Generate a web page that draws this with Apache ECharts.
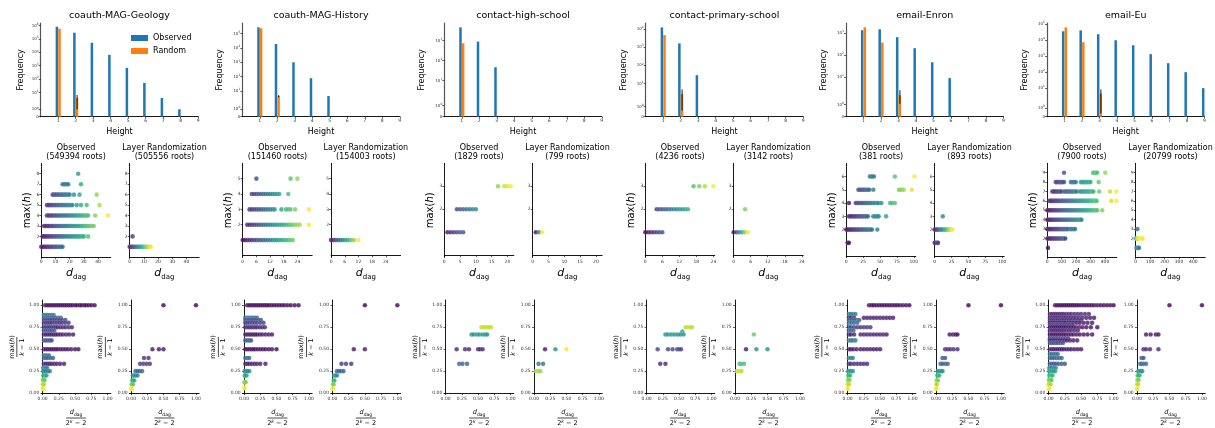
<!DOCTYPE html>
<html><head><meta charset="utf-8">
<script src="https://cdn.jsdelivr.net/npm/echarts@6/dist/echarts.min.js"></script>
<style>html,body{margin:0;padding:0;background:#fff}#c{width:1215px;height:428px}</style>
</head><body><div id="c"></div>
<script>
// ---------------- DATA ----------------
const datasetNames = ['coauth-MAG-Geology','coauth-MAG-History','contact-high-school','contact-primary-school','email-Enron','email-Eu'];
const heights = [1,2,3,4,5,6,7,8,9];
// top row: frequency of each height (Observed / Random), random error bars [height, low, high]
const geologyObserved = [8.2e5, 2.9e5, 5.2e4, 6.5e3, 690, 52, 3.9, 1, 0];
const geologyRandom   = [5.8e5, 3.9, 0, 0, 0, 0, 0, 0, 0];
const geologyRandomErr = [[2, 1, 6.5]];
const historyObserved = [2.8e5, 1.9e4, 1.0e3, 77, 4.3, 0, 0, 0, 0];
const historyRandom   = [2.4e5, 4.3, 0, 0, 0, 0, 0, 0, 0];
const historyRandomErr = [[2, 3.6, 5]];
const highSchoolObserved = [4700, 906, 47, 0, 0, 0, 0, 0, 0];
const highSchoolRandom   = [747, 0, 0, 0, 0, 0, 0, 0, 0];
const highSchoolRandomErr = [];
const primarySchoolObserved = [1.2e4, 1.6e3, 29, 0, 0, 0, 0, 0, 0];
const primarySchoolRandom   = [4.6e3, 2.7, 0, 0, 0, 0, 0, 0, 0];
const primarySchoolRandomErr = [[2, 0.6, 4.8]];
const enronObserved = [1350, 1500, 650, 205, 47, 8.9, 0, 0, 0];
const enronRandom   = [1850, 371, 1.77, 0, 0, 0, 0, 0, 0];
const enronRandomErr = [[3, 1.06, 2.5]];
const euObserved = [3.5e4, 4.0e4, 2.3e4, 9.6e3, 4.7e3, 1.3e3, 350, 96, 9.6];
const euRandom   = [6.2e4, 7.2e3, 4.4, 0, 0, 0, 0, 0, 0];
const euRandomErr = [[3, 0.37, 7.9]];
const freqTickPowers = [6, 5, 3, 4, 3, 5]; // highest labelled power of ten per panel

// middle row: rows of [max(h), d_dag values, optional colour values (0..1, size k)]
const roots = [[549394, 505556], [151460, 154003], [1829, 799], [4236, 3142], [381, 893], [7900, 20799]];
const geologyObsDag = [
  [1, [0,1,2,3,4,5,6,7,8,9,10,11,12,13,14,15]],
  [2, [1,2,3,4,5,6,7,8,9,10,11,12,13,14,15,16,17,18,19,20,21,22,23,24,25,26,27,28,29,30,33]],
  [3, [2,3,4,5,6,7,8,9,10,11,12,13,14,15,16,17,18,19,20,21,22,23,24,25,26,27,28,29,30,31,32,33,34,35,36,37]],
  [4, [4,5,6,7,8,9,10,11,12,13,14,15,16,17,18,19,20,21,22,23,24,25,26,27,28,29,30,31,32,33,38,47]],
  [5, [4,5,6,7,8,9,10,11,12,13,14,15,16,17,18,19,20,21,22,25,28,32,41]],
  [6, [8,9,10,11,12,13,14,15,16,17,18,19,20,23,27,39]],
  [7, [15,16,17,18,19,28]],
  [8, [26]]
];
const geologyLayerDag = [
  [1, [0,1,2,3,4,5,6,7,8,9,10,11,12,13,14,15]],
  [2, [2]]
];
const historyObsDag = [
  [1, [0,1,2,3,4,5,6,7,8,9,10,11,12,13,14,15,16,17,18,19,20,21,22]],
  [2, [2,3,4,5,6,7,8,9,10,11,12,13,14,15,16,17,18,19,20,21,22,23,24,25,29]],
  [3, [3,4,5,6,7,8,9,10,11,12,13,14,17,19,20,21,23,29]],
  [4, [4,5,6,7,8,9,10,11,12,13,14,15,16,20]],
  [5, [6,21,24]]
];
const historyLayerDag = [
  [1, [0,1,2,3,4,5,6,7,8,9,10,12]]
];
const highSchoolObsDag = [
  [1, [1,2,3,4,5,6]],
  [2, [4,5,6,7,8,9,10]],
  [3, [17,19,20,21]]
];
const highSchoolLayerDag = [
  [1, [1,2,3], [0.02,0.45,1]]
];
const primarySchoolObsDag = [
  [1, [0,1,2,3,4,5,6]],
  [2, [4,5,6,7,8,9,10,11,12,13,14,15]],
  [3, [17,19,21,24]]
];
const primarySchoolLayerDag = [
  [1, [0,1,2,3,4,5]],
  [2, [4]]
];
const enronObsDag = [
  [1, [2,4]],
  [2, [0,2,4,6,8,10,12,14,16,18,20,22,24,26,28,30,32,34,36,38,46]],
  [3, [4,6,8,10,12,14,16,18,20,22,24,26,28,30,32,40,42,44,46,48,59]],
  [4, [4,14,16,18,20,22,24,26,28,30,32,34,36,38,40,42,44,46,48,52,65,68,72]],
  [5, [18,20,22,24,26,28,30,32,34,40,78,80,82,85,97]],
  [6, [35,37,39,41,72,101]]
];
const enronLayerDag = [
  [1, [0,2,4,5]],
  [2, [0,2,4,6,8,10,12,14,16,18,20,22,24,26]],
  [3, [12]]
];
const euObsDag = [
  [1, [5]],
  [2, [0,8,16,24,32,40,48,56,64,72,80,88,96,104,112,120,125]],
  [3, [0,8,16,24,32,40,48,56,64,72,80,88,96,104,112,120,128,136,144,158,166,175,184,193]],
  [4, [0,8,16,24,32,40,48,56,64,72,80,88,96,104,112,120,128,136,144,152,160,168,176,184,192,200,208,216,224,232,237]],
  [5, [0,8,16,24,32,40,48,56,64,72,80,88,96,104,112,120,128,136,144,152,160,168,176,184,192,200,208,216,224,232,240,248,256,264,272,280,288,296,304,312,320,328,337,346,381]],
  [6, [16,24,32,40,48,56,64,72,80,88,96,104,112,120,128,136,144,152,160,168,176,184,192,200,208,216,224,232,240,248,256,264,272,280,288,296,304,312,320,328,336,342,444,479]],
  [7, [35,43,51,59,67,75,83,91,98,116,124,132,140,148,156,164,172,180,188,196,204,225,233,241,249,257,265,273,281,289,297,305,313,320,360,435,479]],
  [8, [58,66,74,82,90,98,106,116,163,171,179,187,198,233,241,249,257,265,273,281,289,300,356]],
  [9, [116,318,325,332,339,346,402]]
];
const euLayerDag = [
  [1, [5,12,18,23], [0.4,0.42,0.42,0.42]],
  [2, [0,6,12,18,24,30,36,42,48], [0.62,0.72,0.9,0.95,0.97,1,1,1,1]],
  [3, [12], [0.3]]
];

// bottom row: rows of [max(h)/(k-1), d_dag/(2^k-2) values, colour value (size k, 0..1)]
const geologyObsNorm = [
  [1.0, [0.04,0.07,0.1,0.13,0.16,0.19,0.22,0.25,0.28,0.31,0.34,0.37,0.4,0.43,0.46,0.5,0.53,0.57,0.6,0.64,0.67,0.71,0.75,0.8], 0.02],
  [0.889, [0.02,0.04,0.06,0.08,0.11,0.14,0.17], 0.4],
  [0.857, [0.02,0.05,0.08,0.11,0.14,0.17,0.2,0.24,0.28], 0.3],
  [0.833, [0.02,0.05,0.08,0.11,0.14,0.18,0.22,0.26,0.3,0.35], 0.2],
  [0.8, [0.02,0.05,0.08,0.11,0.14,0.18,0.22,0.26,0.3,0.35,0.4], 0.15],
  [0.75, [0.02,0.05,0.08,0.11,0.14,0.17,0.2,0.23,0.27,0.31,0.35,0.4,0.45], 0.1],
  [0.714, [0.02,0.05,0.08,0.11,0.14,0.18], 0.28],
  [0.667, [0.02,0.05,0.08,0.11,0.14,0.17,0.2,0.23,0.27,0.31,0.36,0.41,0.47], 0.07],
  [0.6, [0.02,0.05,0.08,0.11,0.14], 0.25],
  [0.5, [0.02,0.05,0.08,0.11,0.14,0.17,0.2,0.23,0.27,0.31,0.35,0.39,0.44,0.5,0.55], 0.04],
  [0.429, [0.02,0.04,0.07,0.1], 0.35],
  [0.4, [0.02,0.05,0.08,0.12,0.16], 0.3],
  [0.333, [0.02,0.05,0.08,0.11,0.14,0.18,0.22,0.27,0.33], 0.08],
  [0.286, [0.01,0.03,0.05,0.07], 0.45],
  [0.25, [0.01,0.03,0.05,0.08,0.11], 0.4],
  [0.2, [0.01,0.02,0.04,0.06], 0.6],
  [0.15, [0.005,0.015,0.03], 0.75],
  [0.1, [0.003,0.01,0.02], 0.88],
  [0.05, [0.002,0.008], 1.0]
];
const geologyLayerNorm = [
  [1.0, [0.5,1.0], 0.0],
  [0.5, [0.33,0.43,0.5], 0.05],
  [0.4, [0.2,0.27], 0.12],
  [0.333, [0.14,0.19,0.24,0.29], 0.15],
  [0.25, [0.07,0.1,0.13,0.17], 0.3],
  [0.2, [0.03,0.05,0.07,0.1], 0.45],
  [0.143, [0.02,0.03,0.05], 0.6],
  [0.1, [0.01,0.02,0.03], 0.75],
  [0.05, [0.003,0.008,0.015], 1.0]
];
const historyObsNorm = [
  [1.0, [0.05,0.08,0.11,0.14,0.17,0.2,0.23,0.26,0.29,0.32,0.35,0.38,0.42,0.46,0.5,0.54,0.58,0.62,0.67,0.72,0.78,0.84], 0.02],
  [0.857, [0.02,0.05,0.08,0.11,0.14,0.17,0.2], 0.35],
  [0.833, [0.02,0.05,0.08,0.11,0.14,0.18,0.22,0.26], 0.25],
  [0.8, [0.02,0.05,0.08,0.12,0.16,0.2,0.25,0.3], 0.18],
  [0.75, [0.02,0.05,0.08,0.11,0.14,0.17,0.2,0.24,0.28,0.32], 0.1],
  [0.667, [0.02,0.05,0.08,0.11,0.14,0.17,0.2,0.24,0.28,0.33,0.38,0.43], 0.06],
  [0.6, [0.02,0.05,0.08,0.11], 0.3],
  [0.5, [0.02,0.05,0.08,0.11,0.14,0.17,0.21,0.25,0.29,0.33,0.38,0.43,0.5], 0.03],
  [0.4, [0.02,0.05,0.08], 0.35],
  [0.333, [0.02,0.05,0.08,0.12,0.16,0.2,0.25,0.33], 0.08],
  [0.25, [0.01,0.03,0.05,0.08], 0.45],
  [0.2, [0.01,0.02,0.04], 0.6],
  [0.125, [0.005,0.015,0.025], 0.8],
  [0.06, [0.002,0.008], 1.0]
];
const historyLayerNorm = [
  [1.0, [0.5,1.0], 0.0],
  [0.5, [0.33,0.5], 0.05],
  [0.333, [0.14,0.21,0.29], 0.15],
  [0.25, [0.07,0.1,0.13,0.17], 0.3],
  [0.2, [0.03,0.05,0.07], 0.5],
  [0.143, [0.02,0.03], 0.65],
  [0.1, [0.01,0.02], 0.8],
  [0.05, [0.003,0.008], 1.0]
];
const highSchoolObsNorm = [
  [0.75, [0.55,0.58,0.61,0.64,0.67,0.7], 0.9],
  [0.667, [0.4,0.43,0.48,0.52,0.57,0.61,0.64], 0.5],
  [0.5, [0.17,0.3,0.36,0.5,0.53,0.57], 0.1],
  [0.333, [0.21,0.26,0.33], 0.3]
];
const highSchoolLayerNorm = [
  [0.5, [0.17], 0.05],
  [0.5, [0.33], 0.5],
  [0.5, [0.5], 1.0],
  [0.333, [0.07,0.14], 0.35],
  [0.25, [0.03,0.07,0.1], 0.85]
];
const primarySchoolObsNorm = [
  [0.75, [0.6,0.63,0.67,0.7], 0.9],
  [0.7, [0.55], 0.6],
  [0.667, [0.29,0.33,0.38,0.43,0.48,0.52,0.57], 0.5],
  [0.5, [0.17,0.33,0.4,0.47,0.5,0.53], 0.2],
  [0.333, [0.21,0.29], 0.1]
];
const primarySchoolLayerNorm = [
  [0.667, [0.29], 0.75],
  [0.5, [0.17], 0.05],
  [0.5, [0.33,0.5], 0.5],
  [0.333, [0.07,0.1,0.14], 0.7],
  [0.25, [0.03,0.07,0.1], 0.9]
];
const enronObsNorm = [
  [1.0, [0.33,0.37,0.4,0.44,0.48,0.52,0.56,0.6,0.64,0.68,0.72,0.76,0.8,0.85,0.9,0.95], 0.02],
  [0.9, [0.02,0.05,0.08,0.12], 0.4],
  [0.857, [0.02,0.05,0.1,0.25,0.3,0.35,0.4,0.45,0.5,0.55,0.6,0.65,0.7], 0.08],
  [0.833, [0.02,0.06,0.1,0.14,0.18], 0.3],
  [0.8, [0.02,0.06,0.1,0.15], 0.35],
  [0.75, [0.02,0.05,0.1,0.15,0.2,0.25,0.3,0.35], 0.15],
  [0.714, [0.02,0.05,0.09], 0.35],
  [0.667, [0.02,0.05,0.1,0.2,0.25,0.3,0.35,0.4,0.45,0.5,0.55,0.6], 0.08],
  [0.6, [0.02,0.05,0.08,0.12], 0.4],
  [0.5, [0.02,0.05,0.09,0.14,0.2,0.25,0.3,0.35,0.4,0.45,0.5], 0.06],
  [0.4, [0.02,0.05,0.08], 0.45],
  [0.333, [0.02,0.05,0.1,0.15,0.2,0.25,0.3], 0.1],
  [0.25, [0.01,0.03,0.05,0.08], 0.5],
  [0.2, [0.01,0.02,0.04], 0.65],
  [0.15, [0.005,0.015,0.03], 0.8],
  [0.1, [0.003,0.01,0.02], 0.9],
  [0.05, [0.002,0.008], 1.0]
];
const enronLayerNorm = [
  [1.0, [0.5,1.0], 0.0],
  [0.667, [0.21,0.26,0.3,0.33], 0.05],
  [0.5, [0.14,0.18,0.22,0.27,0.33], 0.12],
  [0.4, [0.1,0.14], 0.25],
  [0.333, [0.07,0.1,0.14,0.18], 0.3],
  [0.25, [0.03,0.05,0.08,0.1], 0.5],
  [0.2, [0.02,0.03,0.05], 0.65],
  [0.143, [0.01,0.02,0.03], 0.8],
  [0.1, [0.005,0.012], 0.9],
  [0.05, [0.002,0.006], 1.0]
];
const euObsNorm = [
  [1.0, [0.1,0.13,0.16,0.19,0.22,0.25,0.28,0.31,0.34,0.37,0.4,0.43,0.46,0.5,0.54,0.58,0.62,0.66,0.7,0.75,0.8,0.85,0.9,0.95,1.0], 0.02],
  [0.9, [0.02,0.05,0.08,0.11,0.14,0.17,0.2,0.23,0.27,0.31,0.35,0.4,0.45,0.5,0.56,0.62], 0.1],
  [0.857, [0.02,0.05,0.08,0.11,0.14,0.17,0.2,0.23,0.26,0.3,0.34,0.38,0.42,0.47,0.52,0.58,0.64,0.7], 0.06],
  [0.833, [0.02,0.05,0.08,0.11,0.14,0.17,0.2,0.23,0.27,0.31,0.35,0.4,0.45,0.5], 0.15],
  [0.8, [0.02,0.05,0.08,0.11,0.14,0.17,0.2,0.23,0.26,0.3,0.34,0.38,0.43,0.48,0.54,0.6,0.67], 0.05],
  [0.778, [0.02,0.05,0.08,0.11,0.14,0.17,0.2,0.24,0.28,0.32,0.37], 0.2],
  [0.75, [0.02,0.05,0.08,0.11,0.14,0.17,0.2,0.23,0.26,0.3,0.34,0.38,0.42,0.47,0.52,0.58,0.65,0.75], 0.04],
  [0.714, [0.02,0.05,0.08,0.11,0.14,0.17,0.2,0.23,0.27,0.31,0.35,0.4,0.45], 0.1],
  [0.667, [0.02,0.05,0.08,0.11,0.14,0.17,0.2,0.23,0.26,0.3,0.34,0.38,0.43,0.48,0.54,0.6,0.67], 0.04],
  [0.625, [0.02,0.05,0.08,0.11,0.14,0.18,0.22,0.26,0.3], 0.2],
  [0.6, [0.02,0.05,0.08,0.11,0.14,0.17,0.2,0.24,0.28,0.33,0.38,0.44], 0.08],
  [0.571, [0.02,0.05,0.08,0.11,0.14,0.18,0.22], 0.25],
  [0.5, [0.02,0.05,0.08,0.11,0.14,0.17,0.2,0.23,0.27,0.31,0.35,0.4,0.45,0.5], 0.06],
  [0.444, [0.02,0.05,0.08,0.11,0.14], 0.35],
  [0.4, [0.02,0.05,0.08,0.12,0.16,0.2], 0.3],
  [0.333, [0.02,0.05,0.08,0.11,0.15,0.2,0.25], 0.25],
  [0.286, [0.01,0.03,0.05,0.08,0.11], 0.45],
  [0.25, [0.01,0.03,0.05,0.07,0.1], 0.55],
  [0.2, [0.01,0.02,0.04,0.06], 0.65],
  [0.15, [0.005,0.015,0.03,0.045], 0.75],
  [0.1, [0.003,0.01,0.02,0.03], 0.88],
  [0.05, [0.002,0.008,0.015], 1.0]
];
const euLayerNorm = [
  [1.0, [0.5,1.0], 0.0],
  [0.667, [0.14,0.21,0.29,0.33], 0.05],
  [0.5, [0.1,0.14,0.2,0.33], 0.1],
  [0.4, [0.07,0.1], 0.25],
  [0.333, [0.05,0.07,0.1,0.14], 0.35],
  [0.25, [0.02,0.04,0.06,0.08], 0.5],
  [0.2, [0.01,0.02,0.04], 0.65],
  [0.15, [0.006,0.015,0.025], 0.8],
  [0.1, [0.003,0.008,0.015], 0.9],
  [0.05, [0.001,0.005], 1.0]
];

// ---------------- STYLE / LAYOUT ----------------
const FONT = 'DejaVu Sans';
const BLUE = '#1f77b4', ORANGE = '#ff7f0e';
const viridisStops = ['#440154','#482475','#414487','#355f8d','#2a788e','#21918c','#22a884','#44bf70','#7ad151','#bddf26','#fde725'];
function hex2rgb(h){return [parseInt(h.slice(1,3),16),parseInt(h.slice(3,5),16),parseInt(h.slice(5,7),16)];}
function viridis(t){
  t = Math.max(0, Math.min(1, t)); const s = t*10; const i = Math.min(9, Math.floor(s)); const f = s - i;
  const a = hex2rgb(viridisStops[i]), b = hex2rgb(viridisStops[i+1]);
  return 'rgb(' + a.map((v,j)=>Math.round(v+(b[j]-v)*f)).join(',') + ')';
}
// matplotlib symlog (linthresh 2, linscale 1)
const LT = 2, LS = 1/(1-0.1);
function symlog(v){ return v <= LT ? v/LT*LS : LS + Math.log10(v/LT); }

const topLeft = [40.7, 242.3, 444.3, 645.7, 846, 1047];
const topWidth = 157.5, topTop = 23, topHeight = 93.7;
const obsLeft = [41.3, 242.7, 444.3, 645.3, 846.3, 1047.3];
const subWidth = 69.5, layerOffset = 88.4;
const midTop = 163.3, midHeight = 94;
const botTop = 300, botHeight = 98;
const topYMax = [7.0, 6.56, 4.7, 5.13, 4.27, 5.875];
const midXMax = [49, 30.5, 22, 24.5, 103, 482];
const midXTicks = [[0,10,20,30,40],[0,6,12,18,24],[0,5,10,15,20],[0,6,12,18,24],[0,25,50,75,100],[0,100,200,300,400]];
const midYMin = [0, -0.12, -0.09, -0.09, -0.09, 0];
const midYMax = [9, 6, 4, 4, 7, 10];

const observedSets = [geologyObserved, historyObserved, highSchoolObserved, primarySchoolObserved, enronObserved, euObserved];
const randomSets = [geologyRandom, historyRandom, highSchoolRandom, primarySchoolRandom, enronRandom, euRandom];
const errSets = [geologyRandomErr, historyRandomErr, highSchoolRandomErr, primarySchoolRandomErr, enronRandomErr, euRandomErr];
const obsDagSets = [geologyObsDag, historyObsDag, highSchoolObsDag, primarySchoolObsDag, enronObsDag, euObsDag];
const layerDagSets = [geologyLayerDag, historyLayerDag, highSchoolLayerDag, primarySchoolLayerDag, enronLayerDag, euLayerDag];
const obsNormSets = [geologyObsNorm, historyObsNorm, highSchoolObsNorm, primarySchoolObsNorm, enronObsNorm, euObsNorm];
const layerNormSets = [geologyLayerNorm, historyLayerNorm, highSchoolLayerNorm, primarySchoolLayerNorm, enronLayerNorm, euLayerNorm];

const grids = [], xAxes = [], yAxes = [], series = [], graphics = [];
const tickLabel = {fontSize: 4.5, color: '#333', fontFamily: FONT, margin: 2};
const axLine = {show: true, lineStyle: {color: '#000', width: 0.9}};
function tick(vals){ return {show: true, length: 2, customValues: vals, lineStyle: {color: '#000', width: 0.6}}; }
function addGrid(l, t, w, h){ grids.push({left: l, top: t, width: w, height: h, containLabel: false}); return grids.length - 1; }
function text(x, y, s, size){ graphics.push({type: 'text', x: x, y: y, style: {text: s, fontSize: size, fontFamily: FONT, fill: '#000', align: 'center', verticalAlign: 'middle'}}); }

// ---------- top row ----------
for (let i = 0; i < 6; i++) {
  const g = addGrid(topLeft[i], topTop, topWidth, topHeight);
  const tv = [0], tl = {};
  tl[(0).toFixed(4)] = '{b|0}';
  for (let p = 0; p <= freqTickPowers[i]; p++) { const v = symlog(Math.pow(10, p)); tv.push(v); tl[v.toFixed(4)] = '{b|10}{e|' + p + '}'; }
  xAxes.push({gridIndex: g, type: 'value', min: 0, max: 9, axisLine: axLine, axisTick: tick(heights),
    axisLabel: Object.assign({customValues: heights}, tickLabel), splitLine: {show: false},
    name: 'Height', nameLocation: 'middle', nameGap: 11, nameTextStyle: {fontSize: 8, fontFamily: FONT, color: '#000'}});
  yAxes.push({gridIndex: g, type: 'value', min: 0, max: topYMax[i], axisLine: {show: true, lineStyle: {color: '#555', width: 1.2}}, axisTick: tick(tv),
    axisLabel: Object.assign({customValues: tv, formatter: v => tl[v.toFixed(4)] || '',
      rich: {b: {fontSize: 4, color: '#333', fontFamily: FONT}, e: {fontSize: 3, color: '#333', fontFamily: FONT, padding: [0,0,3,0]}}}, tickLabel),
    splitLine: {show: false},
    name: 'Frequency', nameLocation: 'middle', nameGap: i === 0 ? 16 : 18, nameRotate: 90, nameTextStyle: {fontSize: 8, fontFamily: FONT, color: '#000'}});
  const ax = xAxes.length - 1;
  series.push({name: 'Observed', type: 'bar', xAxisIndex: ax, yAxisIndex: ax, barWidth: 2.5, barGap: '5%',
    itemStyle: {color: BLUE}, data: heights.map((h, j) => [h, symlog(observedSets[i][j])])});
  series.push({name: 'Random', type: 'bar', xAxisIndex: ax, yAxisIndex: ax, barWidth: 2.5, barGap: '5%',
    itemStyle: {color: ORANGE}, data: heights.map((h, j) => [h, symlog(randomSets[i][j])])});
  series.push({type: 'custom', xAxisIndex: ax, yAxisIndex: ax, z: 5,
    data: errSets[i].map(e => [e[0], symlog(e[1]), symlog(e[2])]),
    renderItem: (params, api) => {
      const a = api.coord([api.value(0), api.value(1)]), b = api.coord([api.value(0), api.value(2)]);
      return {type: 'line', shape: {x1: a[0] + 1.4, y1: a[1], x2: b[0] + 1.4, y2: b[1]}, style: {stroke: '#000', lineWidth: 0.9}};
    }});
  text(topLeft[i] + topWidth/2, 15.5, datasetNames[i], 9.5);
}

// ---------- middle row ----------
function dagPoints(rows){
  let mx = 0; rows.forEach(r => r[1].forEach(x => { if (x > mx) mx = x; }));
  const pts = [];
  rows.forEach(r => r[1].forEach((x, j) => pts.push([x, r[0], r[2] ? r[2][j] : x / mx])));
  return pts;
}
const maxhName = '{t|max(}{i|h}{t|)}';
const maxhRich = {t: {fontSize: 10, fontFamily: FONT, color: '#000'}, i: {fontSize: 10, fontFamily: FONT, fontStyle: 'italic', color: '#000'}};
const ddagName = '{i|d}{s|dag}';
const ddagRich = {i: {fontSize: 11, fontFamily: FONT, fontStyle: 'italic', color: '#000'}, s: {fontSize: 7, fontFamily: FONT, color: '#000', padding: [7,0,0,0]}};
for (let i = 0; i < 6; i++) {
  const yt = []; for (let h = 2; h < midYMax[i]; h++) yt.push(h);
  [0, 1].forEach(side => {
    const left = obsLeft[i] + side * layerOffset;
    const g = addGrid(left, midTop, subWidth, midHeight);
    xAxes.push({gridIndex: g, type: 'value', min: 0, max: midXMax[i], axisLine: axLine, axisTick: tick(midXTicks[i]),
      axisLabel: Object.assign({customValues: midXTicks[i]}, tickLabel), splitLine: {show: false},
      name: ddagName, nameLocation: 'middle', nameGap: 9, nameTextStyle: {rich: ddagRich}});
    yAxes.push({gridIndex: g, type: 'value', min: midYMin[i], max: midYMax[i], axisLine: axLine, axisTick: tick(yt),
      axisLabel: Object.assign({customValues: yt}, tickLabel), splitLine: {show: false},
      name: side === 0 ? maxhName : '', nameLocation: 'middle', nameGap: 9, nameRotate: 90, nameTextStyle: {rich: maxhRich}});
    const ax = xAxes.length - 1;
    series.push({type: 'scatter', xAxisIndex: ax, yAxisIndex: ax, symbolSize: 4.6,
      data: dagPoints(side === 0 ? obsDagSets[i] : layerDagSets[i]),
      itemStyle: {color: p => viridis(p.data[2]), borderColor: 'rgba(255,255,255,0.6)', borderWidth: 0.3}});
    text(left + subWidth/2, 147.5, side === 0 ? 'Observed' : 'Layer Randomization', 8);
    text(left + subWidth/2, 156.8, '(' + roots[i][side] + ' roots)', 8);
  });
}

// ---------- bottom row ----------
function normPoints(rows){ const pts = []; rows.forEach(r => r[1].forEach(x => pts.push([x, r[0], r[2]]))); return pts; }
const normTicks = [0, 0.25, 0.5, 0.75, 1];
const fracY = '{t|max(}{i|h}{t|)}\n{bar| }\n{i|k}{t| − 1}';
const fracX = '{i|d}{s|dag}\n{bar| }\n{t|2}{e|k}{t| − 2}';
const fracRich = {
  t: {fontSize: 6.5, fontFamily: FONT, color: '#000', lineHeight: 8},
  i: {fontSize: 6.5, fontFamily: FONT, fontStyle: 'italic', color: '#000', lineHeight: 8},
  s: {fontSize: 4.5, fontFamily: FONT, color: '#000', padding: [4,0,0,0]},
  e: {fontSize: 4.5, fontFamily: FONT, fontStyle: 'italic', color: '#000', padding: [0,0,4,0]},
  bar: {width: 20, height: 0.7, backgroundColor: '#000', fontSize: 1, lineHeight: 2}
};
for (let i = 0; i < 6; i++) {
  [0, 1].forEach(side => {
    const left = obsLeft[i] + side * layerOffset;
    const g = addGrid(left, botTop, subWidth, botHeight);
    xAxes.push({gridIndex: g, type: 'value', min: -0.02, max: 1.05, axisLine: axLine, axisTick: tick(normTicks),
      axisLabel: Object.assign({customValues: normTicks, formatter: v => v.toFixed(2)}, tickLabel), splitLine: {show: false},
      name: fracX, nameLocation: 'middle', nameGap: 14, nameTextStyle: {rich: fracRich}});
    yAxes.push({gridIndex: g, type: 'value', min: -0.01, max: 1.06, axisLine: axLine, axisTick: tick(normTicks),
      axisLabel: Object.assign({customValues: normTicks, formatter: v => v.toFixed(2)}, tickLabel), splitLine: {show: false},
      name: fracY, nameLocation: 'middle', nameGap: 8, nameRotate: 90, nameTextStyle: {rich: fracRich}});
    const ax = xAxes.length - 1;
    series.push({type: 'scatter', xAxisIndex: ax, yAxisIndex: ax, symbolSize: 4.6,
      data: normPoints(side === 0 ? obsNormSets[i] : layerNormSets[i]),
      itemStyle: {color: p => viridis(p.data[2]), borderColor: 'rgba(255,255,255,0.6)', borderWidth: 0.3}});
  });
}

const chart = echarts.init(document.getElementById('c'), null, {renderer: 'canvas'});
chart.setOption({
  animation: false,
  backgroundColor: '#fff',
  textStyle: {fontFamily: FONT},
  grid: grids, xAxis: xAxes, yAxis: yAxes, series: series,
  legend: {data: ['Observed', 'Random'], left: 126, top: 29, orient: 'vertical', itemWidth: 17, itemHeight: 6, itemGap: 5,
    icon: 'rect', textStyle: {fontSize: 8, fontFamily: FONT, color: '#000'}},
  graphic: graphics
});
</script></body></html>
